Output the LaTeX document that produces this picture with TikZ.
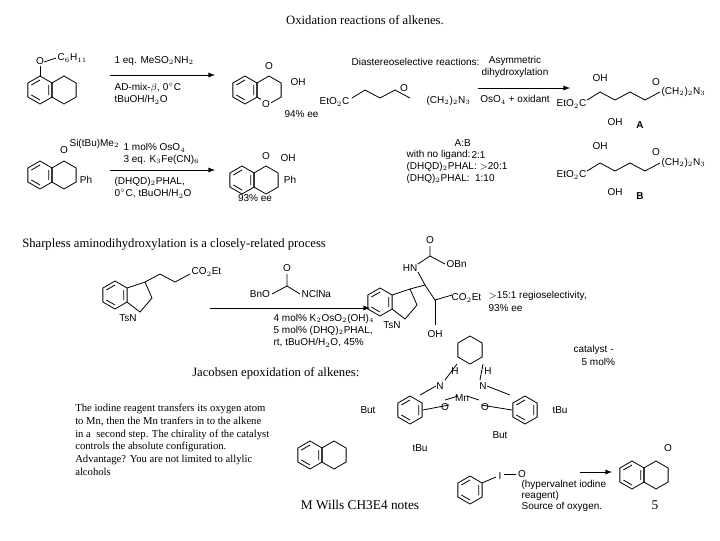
\documentclass[tikz,border=0pt]{standalone}
\usepackage{fontspec}
\setmainfont{Liberation Serif}
\newfontfamily\chemsf{Liberation Sans}
\begin{document}
\begin{tikzpicture}[x=0.75pt,y=-0.75pt,
  chem/.style={font=\chemsf\fontsize{7.5}{8.5}\selectfont,inner sep=1pt},
  serifL/.style={font=\fontsize{9.5}{11}\selectfont,inner sep=0pt},
  para/.style={font=\fontsize{8}{9.5}\selectfont,inner sep=0pt,align=left},
  bond/.style={line width=0.6pt},
  rxn/.style={line width=0.7pt,-latex},
  hexr/.pic={\draw[bond] (30:14)--(90:14)--(150:14)--(210:14)--(270:14)--(330:14)--cycle;},
  hexd/.pic={\draw[bond] (30:14)--(90:14)--(150:14)--(210:14)--(270:14)--(330:14)--cycle;
     \draw[bond] (90:10)--(150:10) (210:10)--(270:10) (330:10)--(30:10);}
]
\useasboundingbox (0,0) rectangle (720,540);
\node[serifL] (title) at (365,20) {Oxidation reactions of alkenes.};
% reaction 1
\pic at (40,90) {hexd}; \pic at (64,90) {hexr};
\draw[bond] (40,76)--(40,66) node[chem,anchor=south] {O};
\draw[bond] (44,62)--(56,58) node[chem,anchor=west] {C$_6$H$_{11}$};
\coordinate (a1s) at (110,75); \coordinate (a1e) at (215,75);
\draw[rxn] (a1s) -- (a1e);
\node[chem,anchor=west] at (113,61) {1 eq. MeSO$_2$NH$_2$};
\node[chem,anchor=west] at (113,88) {AD-mix-$\beta$, 0$^\circ$C};
\node[chem,anchor=west] at (113,100) {tBuOH/H$_2$O};
\pic at (245,90) {hexd}; \pic at (269,90) {hexr};
\node[chem] at (269,66) {O}; \node[chem] at (298,82) {OH}; \node[chem,fill=white] at (266,104) {O};
\node[chem,anchor=west] at (283,114) {94\% ee};
\node[chem,anchor=west] at (350,62) {Diastereoselective reactions:};
\node[chem,anchor=west] at (318,102) {EtO$_2$C};
\draw[bond] (352,98)--(365,90)--(380,98)--(395,90)--(410,98);
\node[chem] at (404,88) {O};
\node[chem,anchor=west] at (425,101) {(CH$_2$)$_2$N$_3$};
\draw[rxn] (478,88) -- (570,88);
\node[chem,align=center] at (515,67) {Asymmetric\\dihydroxylation};
\node[chem] at (515,100) {OsO$_4$ + oxidant};
\node[chem,anchor=west] at (555,104) {EtO$_2$C};
\draw[bond] (587,100)--(600,92)--(615,100)--(630,92)--(645,100)--(660,92);
\node[chem] at (600,78) {OH}; \node[chem] at (615,122) {OH};
\node[chem] at (656,82) {O};
\node[chem,anchor=west] at (660,92) {(CH$_2$)$_2$N$_3$};
\node[chem,font=\chemsf\bfseries\fontsize{7.5}{8.5}\selectfont] at (640,125) {A};
% reaction 2
\pic at (40,175) {hexd}; \pic at (64,175) {hexr};
\node[chem] at (64,150) {O};
\node[chem,anchor=west] at (68,144) {Si(tBu)Me$_2$};
\node[chem] at (86,180) {Ph};
\draw[rxn] (110,170) -- (215,170);
\node[chem,anchor=west] at (122,148) {1 mol\% OsO$_4$};
\node[chem,anchor=west] at (122,160) {3 eq. K$_3$Fe(CN)$_6$};
\node[chem,anchor=west] at (113,182) {(DHQD)$_2$PHAL,};
\node[chem,anchor=west] at (113,194) {0$^\circ$C, tBuOH/H$_2$O};
\pic at (242,180) {hexd}; \pic at (266,180) {hexr};
\node[chem] at (266,156) {O}; \node[chem] at (288,158) {OH}; \node[chem] at (290,180) {Ph};
\node[chem] at (255,198) {93\% ee};
\node[chem,anchor=west] at (453,143) {A:B};
\node[chem,anchor=west] at (405,155) {with no ligand:};
\node[chem,anchor=west] at (470,155) {2:1};
\node[chem,anchor=west] at (405,167) {(DHQD)$_2$PHAL: $>$20:1};
\node[chem,anchor=west] at (405,179) {(DHQ)$_2$PHAL:\ \ 1:10};
\node[chem,anchor=west] at (555,175) {EtO$_2$C};
\draw[bond] (587,171)--(600,163)--(615,171)--(630,163)--(645,171)--(660,163);
\node[chem] at (600,146) {OH}; \node[chem] at (615,192) {OH};
\node[chem] at (656,152) {O};
\node[chem,anchor=west] at (660,163) {(CH$_2$)$_2$N$_3$};
\node[chem,font=\chemsf\bfseries\fontsize{7.5}{8.5}\selectfont] at (640,196) {B};
% Sharpless AA
\node[serifL,anchor=west] (aa) at (22,244) {Sharpless aminodihydroxylation is a closely-related process};
\pic at (115,295) {hexd};
\draw[bond] (127,288)--(145,282)--(152,298)--(140,312)--(127,302);
\node[chem] at (128,318) {TsN};
\draw[bond] (145,282)--(160,274)--(175,282)--(190,274);
\node[chem,anchor=west] at (190,272) {CO$_2$Et};
\node[chem] at (260,294) {BnO}; \node[chem] at (287,268) {O};
\draw[bond] (287,274)--(287,286) (272,294)--(287,286)--(300,294);
\node[chem,anchor=west] at (300,294) {NClNa};
\draw[rxn] (210,308) -- (370,308);
\node[chem,anchor=west] at (272,319) {4 mol\% K$_2$OsO$_2$(OH)$_4$};
\node[chem,anchor=west] at (272,331) {5 mol\% (DHQ)$_2$PHAL,};
\node[chem,anchor=west] at (272,343) {rt, tBuOH/H$_2$O, 45\%};
\pic at (380,302) {hexd};
\draw[bond] (392,295)--(410,289)--(417,305)--(405,319)--(392,309);
\node[chem] at (392,325) {TsN};
\draw[bond] (410,289)--(425,285)--(435,300)--(452,295);
\node[chem] at (410,268) {HN}; \draw[bond] (418,272)--(425,285);
\draw[bond] (418,264)--(430,256); \node[chem] at (430,240) {O};
\draw[bond] (430,256)--(430,246) (430,256)--(445,264);
\node[chem,anchor=west] at (445,264) {OBn};
\node[chem,anchor=west] at (450,298) {CO$_2$Et};
\draw[bond] (435,300)--(435,325); \node[chem] at (435,334) {OH};
\node[chem,anchor=west] at (487,296) {$>$15:1 regioselectivity,};
\node[chem,anchor=west] at (487,308) {93\% ee};
% Jacobsen
\node[serifL,anchor=west] (jac) at (192,373) {Jacobsen epoxidation of alkenes:};
\node[para,anchor=north west] (txt) at (75,404) {The iodine reagent transfers its oxygen atom\\to Mn, then the Mn tranfers in to the alkene\\in a\ \ second step. The chirality of the catalyst\\controls the absolute configuration.\\Advantage? You are not limited to allylic\\alcohols};
\pic at (470,350) {hexr};
\node[chem] at (455,371) {H}; \node[chem] at (488,371) {H};
\node[chem] at (440,386) {N}; \node[chem] at (483,386) {N};
\node[chem] at (462,398) {Mn};
\node[chem] at (445,407) {O}; \node[chem] at (485,407) {O};
\pic at (410,410) {hexd}; \pic at (525,410) {hexd};
\draw[bond] (457,364)--(445,380) (483,364)--(480,380) (436,386)--(420,395) (487,386)--(510,395);
\draw[bond] (449,405)--(423,410) (481,405)--(512,410) (445,400)--(458,396) (467,396)--(479,400);
\node[chem] at (368,410) {But}; \node[chem] at (420,448) {tBu};
\node[chem] at (500,435) {But}; \node[chem] at (560,410) {tBu};
\node[chem,anchor=west] at (572,350) {catalyst -};
\node[chem,anchor=west] at (580,362) {5 mol\%};
\pic at (310,455) {hexd}; \pic at (334,455) {hexr};
\pic at (470,490) {hexd};
\draw[bond] (482,483)--(496,477); \node[chem] at (500,476) {I};
\draw[bond] (504,474)--(516,474); \node[chem] at (522,474) {O};
\node[chem,anchor=west] at (520,485) {(hypervalnet iodine};
\node[chem,anchor=west] at (520,496) {reagent)};
\node[chem,anchor=west] at (520,507) {Source of oxygen.};
\draw[rxn] (580,472) -- (612,472);
\pic at (632,475) {hexd}; \pic at (656,475) {hexr};
\node[chem] at (668,448) {O};
\node[font=\fontsize{10}{12}\selectfont] (auth) at (360,505) {M Wills CH3E4 notes};
\node[font=\fontsize{10}{12}\selectfont] (pg) at (655,505) {5};
\end{tikzpicture}
\end{document}
